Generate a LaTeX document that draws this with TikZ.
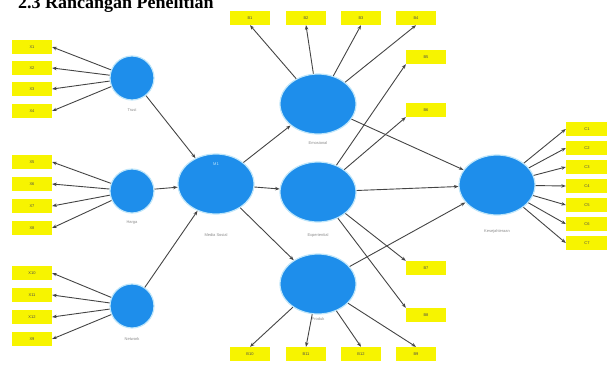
\documentclass[tikz,border=0pt]{standalone}
\usepackage{fontspec}
\setmainfont{Liberation Serif}
\newfontfamily\lblfont{Liberation Sans}
\usetikzlibrary{shapes.geometric,arrows.meta}
\definecolor{latblue}{HTML}{1E8EEB}
\definecolor{glow}{HTML}{BFE6FA}
\definecolor{indyel}{HTML}{F7F400}
\definecolor{arr}{HTML}{444444}
\definecolor{lblgray}{HTML}{8A8A8A}
\tikzset{
  indbox/.style={fill=indyel, minimum width=40pt, minimum height=14pt, inner sep=0pt, font=\lblfont\fontsize{4}{4}\selectfont, text=black!70},
  latc/.style={circle, fill=latblue, draw=glow, line width=1.2pt, minimum size=44pt, inner sep=0pt},
  late/.style={ellipse, fill=latblue, draw=glow, line width=1.2pt, minimum width=76pt, minimum height=60pt, inner sep=0pt},
  latlbl/.style={font=\lblfont\fontsize{4}{4}\selectfont, text=lblgray},
  pth/.style={draw=arr, line width=0.9pt, -{Stealth[length=4.5pt,width=3.5pt]}}
}
\begin{document}
\begin{tikzpicture}[x=1pt,y=-1pt]
\useasboundingbox (0,0) rectangle (607,367);
\node[anchor=base west, font=\bfseries\fontsize{18}{18}\selectfont, inner sep=0pt] (title) at (18,8) {2.3 Rancangan Penelitian};
% left indicators
\node[indbox] (x1) at (32,47) {X1};
\node[indbox] (x2) at (32,68) {X2};
\node[indbox] (x3) at (32,89) {X3};
\node[indbox] (x4) at (32,111) {X4};
\node[indbox] (x5) at (32,162) {X5};
\node[indbox] (x6) at (32,184) {X6};
\node[indbox] (x7) at (32,206) {X7};
\node[indbox] (x8) at (32,228) {X8};
\node[indbox] (x10) at (32,273) {X10};
\node[indbox] (x11) at (32,295) {X11};
\node[indbox] (x12) at (32,317) {X12};
\node[indbox] (x9) at (32,339) {X9};
% latents left
\node[latc] (trust) at (132,78) {};
\node[latlbl] (trustl) at (132,110) {Trust};
\node[latc] (harga) at (132,191) {};
\node[latlbl] (hargal) at (132,223) {Harga};
\node[latc] (net) at (132,306) {};
\node[latlbl] (netl) at (132,339) {Network};
% media sosial
\node[late] (ms) at (216,184) {};
\node[latlbl, text=glow] (msin) at (216,164) {M1};
\node[latlbl] (msl) at (216,235) {Media Sosial};
% mediators
\node[late] (top) at (318,104) {};
\node[latlbl] (topl) at (318,143) {Emosional};
\node[late] (mid) at (318,192) {};
\node[latlbl] (midl) at (318,235) {Experiential};
\node[late] (bot) at (318,284) {};
\node[latlbl] (botl) at (318,319) {Produk};
% outcome
\node[late] (out) at (497,185) {};
\node[latlbl] (outl) at (497,231) {Kesejahteraan};
% top indicators
\node[indbox] (b1) at (250,18) {B1};
\node[indbox] (b2) at (306,18) {B2};
\node[indbox] (b3) at (361,18) {B3};
\node[indbox] (b4) at (416,18) {B4};
% mid indicators
\node[indbox] (b5) at (426,57) {B5};
\node[indbox] (b6) at (426,110) {B6};
\node[indbox] (b7) at (426,268) {B7};
\node[indbox] (b8) at (426,315) {B8};
% bottom indicators
\node[indbox] (b10) at (250,354) {B10};
\node[indbox] (b11) at (306,354) {B11};
\node[indbox] (b12) at (361,354) {B12};
\node[indbox] (b9) at (416,354) {B9};
% right indicators
\node[indbox, minimum width=42pt] (c1) at (587,129) {C1};
\node[indbox, minimum width=42pt] (c2) at (587,148) {C2};
\node[indbox, minimum width=42pt] (c3) at (587,167) {C3};
\node[indbox, minimum width=42pt] (c4) at (587,186) {C4};
\node[indbox, minimum width=42pt] (c5) at (587,205) {C5};
\node[indbox, minimum width=42pt] (c6) at (587,224) {C6};
\node[indbox, minimum width=42pt] (c7) at (587,243) {C7};
% reflective arrows
\foreach \i in {x1,x2,x3,x4} \draw[pth] (trust) -- (\i.east);
\foreach \i in {x5,x6,x7,x8} \draw[pth] (harga) -- (\i.east);
\foreach \i in {x10,x11,x12,x9} \draw[pth] (net) -- (\i.east);
\foreach \i in {b1,b2,b3,b4} \draw[pth] (top) -- (\i.south);
\foreach \i in {b10,b11,b12,b9} \draw[pth] (bot) -- (\i.north);
\draw[pth] (mid) -- (b5.south west);
\draw[pth] (mid) -- (b6.south west);
\draw[pth] (mid) -- (b7.north west);
\draw[pth] (mid) -- (b8.north west);
\foreach \i in {c1,c2,c3,c4,c5,c6,c7} \draw[pth] (out) -- (\i.west);
% structural paths
\draw[pth] (trust) -- (ms);
\draw[pth] (harga) -- (ms);
\draw[pth] (net) -- (ms);
\draw[pth] (ms) -- (top);
\draw[pth] (ms) -- (mid);
\draw[pth] (ms) -- (bot);
\draw[pth] (top) -- (out);
\draw[pth] (mid) -- (out);
\draw[pth] (bot) -- (out);
\end{tikzpicture}
\end{document}
